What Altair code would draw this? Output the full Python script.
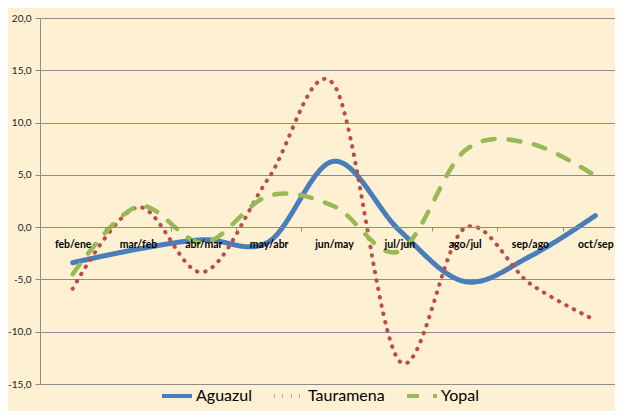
import altair as alt
import pandas as pd

categories = ["feb/ene", "mar/feb", "abr/mar", "may/abr", "jun/may",
              "jul/jun", "ago/jul", "sep/ago", "oct/sep"]
aguazul = [-3.4, -2.1, -1.2, -1.4, 6.3, -0.3, -5.2, -2.8, 1.1]
tauramena = [-5.9, 1.9, -4.3, 4.7, 13.6, -12.8, -0.1, -5.4, -8.9]
yopal = [-4.5, 2.0, -1.5, 3.0, 2.0, -2.3, 7.3, 8.0, 4.9]
series = ["Aguazul", "Tauramena", "Yopal"]
colors = ["#4A7EBB", "#BE4B48", "#98B954"]

rows = []
for name, vals in zip(series, [aguazul, tauramena, yopal]):
    for c, v in zip(categories, vals):
        rows.append({"cat": c, "value": v, "serie": name})
df = pd.DataFrame(rows)

GRID = "#8C8C8C"
FONT = "Lato"

legend_opts = dict(orient="none", legendX=120, legendY=361, direction="horizontal",
                   title=None, symbolType="stroke", symbolSize=900,
                   symbolStrokeWidth=4, labelFont=FONT, labelFontSize=16,
                   labelColor="#000000", columnPadding=14, labelOffset=2)

x_enc = alt.X(
    "cat:N", sort=categories, bandPosition=0.5, title=None,
    scale=alt.Scale(type="band", range=[0, 588], paddingInner=0, paddingOuter=0),
    axis=alt.Axis(orient="bottom", offset=-157, labelAngle=0, tickBand="extent",
                  domainColor=GRID, tickColor=GRID, tickSize=4, labelPadding=8,
                  labelFont=FONT, labelFontSize=10.5, labelFontWeight="bold",
                  labelColor="#000000", grid=False, zindex=1),
)
y_enc = alt.Y(
    "value:Q", title=None,
    scale=alt.Scale(domain=[-15, 20], nice=False, zero=False),
    axis=alt.Axis(values=[-15, -10, -5, 0, 5, 10, 15, 20], grid=True,
                  gridColor=GRID, gridWidth=1.2, domainColor=GRID, tickColor=GRID,
                  tickSize=5, labelPadding=4, labelFont=FONT, labelFontSize=10,
                  labelColor="#222222",
                  labelExpr="(datum.value < 0 ? '-' : '') + replace(format(abs(datum.value), '.1f'), '.', ',')"),
)
color_enc = alt.Color(
    "serie:N", sort=series,
    scale=alt.Scale(domain=series, range=colors),
    legend=alt.Legend(**legend_opts),
)
dash_enc = alt.StrokeDash(
    "serie:N", sort=series,
    scale=alt.Scale(domain=series, range=[[1, 0], [0.5, 8], [12, 14]]),
    legend=alt.Legend(**legend_opts),
)

base = alt.Chart(df).encode(x=x_enc, y=y_enc, color=color_enc, strokeDash=dash_enc)
widths = [5, 4, 4.5]
layers = [
    base.transform_filter(alt.datum.serie == s).mark_line(
        interpolate="cardinal", strokeWidth=w, strokeCap="round")
    for s, w in zip(series, widths)
]

chart = alt.layer(*layers).properties(
    width=575, height=366,
    autosize=alt.AutoSizeParams(type="none"),
    padding={"left": 32, "top": 10, "right": 0, "bottom": 27},
    background="#FEF0D2",
).configure_view(stroke=None)

chart.save("out.html", embed_options={"renderer": "svg", "actions": False})
